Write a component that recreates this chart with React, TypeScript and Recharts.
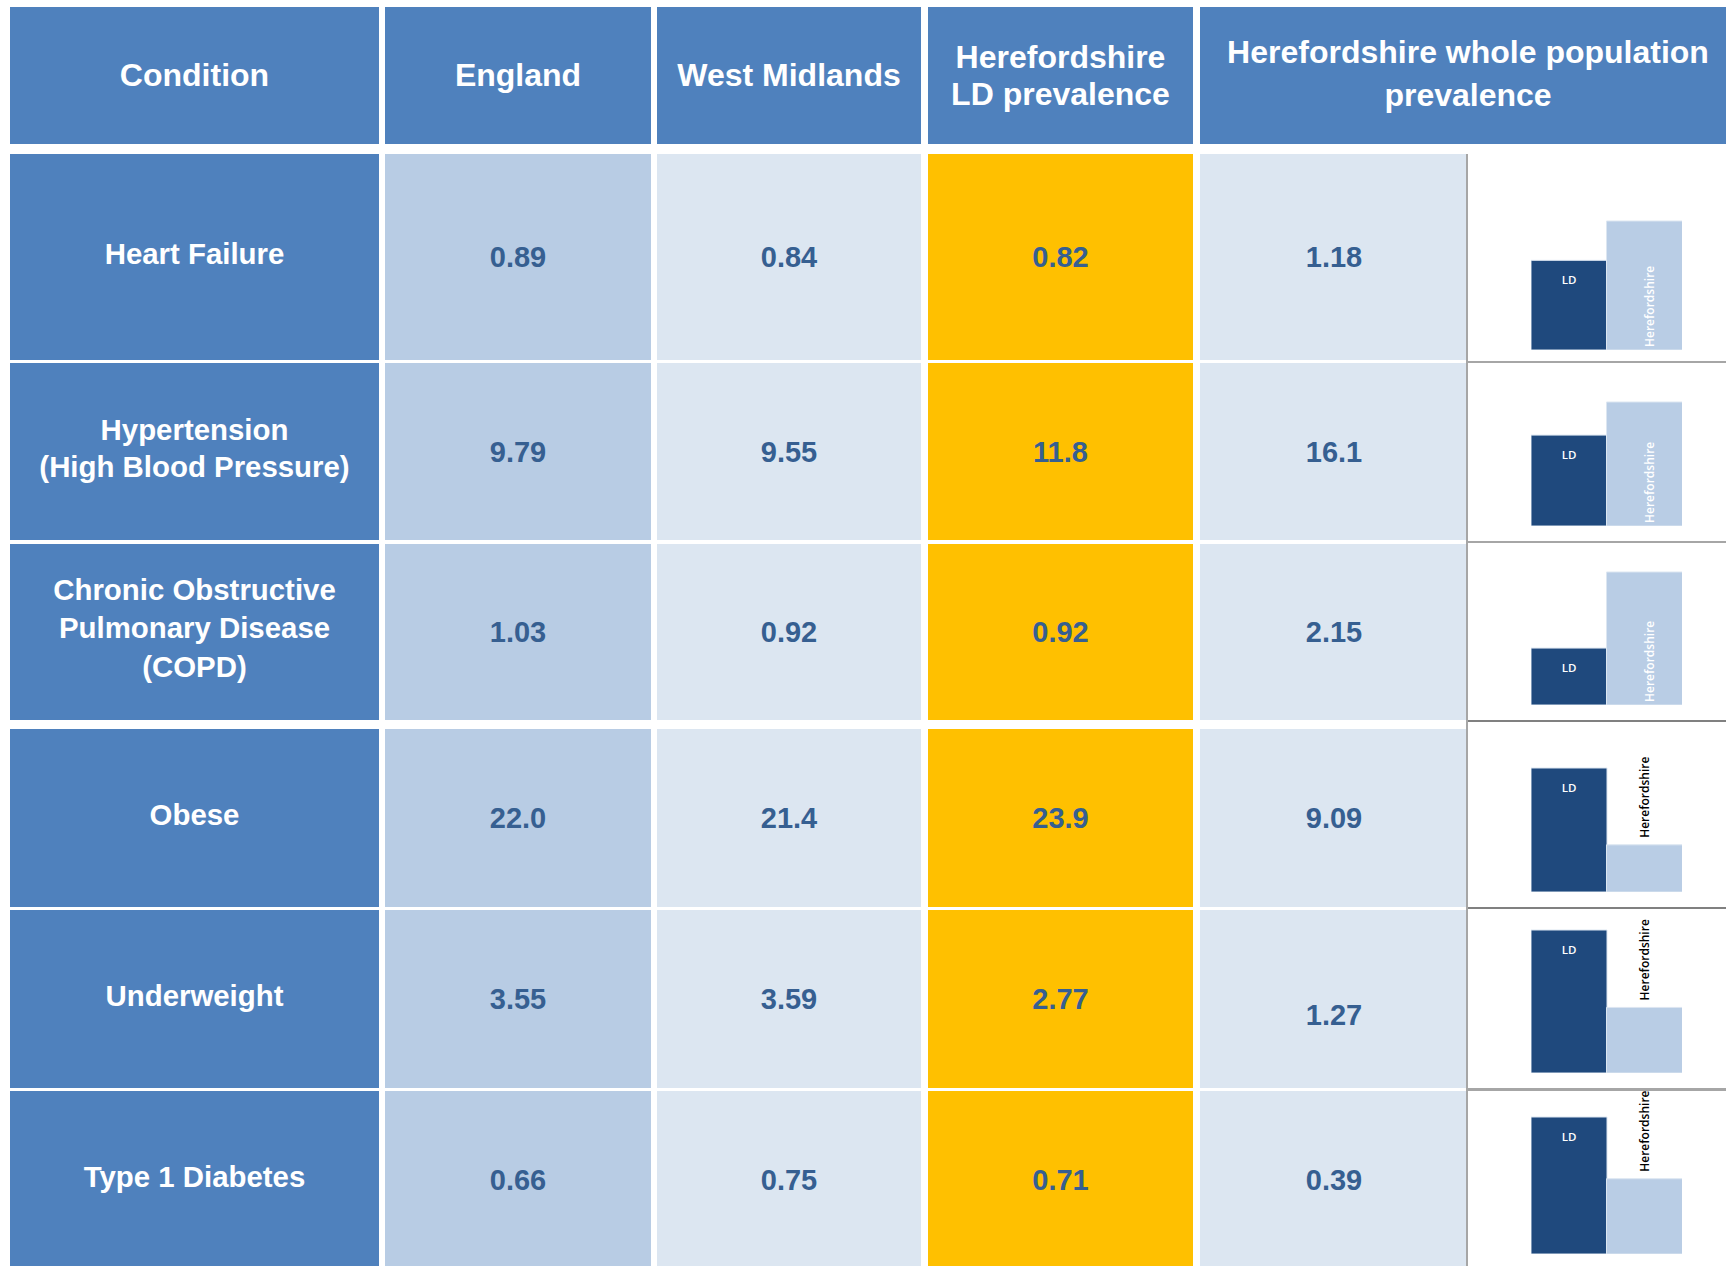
import { BarChart, Bar, XAxis, YAxis, Cell, LabelList } from 'recharts';

const headers = [
  'Condition',
  'England',
  'West Midlands',
  'Herefordshire\nLD prevalence',
  'Herefordshire whole population\nprevalence',
];
const conditions = [
  'Heart Failure',
  'Hypertension\n(High Blood Pressure)',
  'Chronic Obstructive\nPulmonary Disease\n(COPD)',
  'Obese',
  'Underweight',
  'Type 1 Diabetes',
];
const england = [0.89, 9.79, 1.03, 22.0, 3.55, 0.66];
const westMidlands = [0.84, 9.55, 0.92, 21.4, 3.59, 0.75];
const ldPrevalence = [0.82, 11.8, 0.92, 23.9, 2.77, 0.71];
const wholePopulation = [1.18, 16.1, 2.15, 9.09, 1.27, 0.39];
const barNames = ['LD', 'Herefordshire'];

// layout (px on the 1726x1266 page)
const colX = [[10, 379], [385, 651], [657, 921], [928, 1193], [1200, 1468]];
const rowY = [[154, 360], [363, 540], [544, 720], [729, 907], [910, 1088], [1091, 1268]];
const plotY = [[221, 350], [402, 526], [572, 705], [768, 892], [930, 1073], [1117, 1254]];
const CHART_X = 1531;
const CHART_W = 151;
const PAD = 40;

const BLUE = '#4F81BD';
const cellBg = ['#4F81BD', '#B8CCE4', '#DCE6F1', '#FFC000', '#DCE6F1'];
const VALUE = '#365F91';

const fmt = (v: number) => (v >= 10 ? v.toFixed(1) : v.toFixed(2));

function BarLabel(props: any) {
  const { x, y, width, height, value, inside } = props;
  const cx = x + width / 2;
  if (value === 'LD') {
    return (
      <text x={cx} y={y + 19} fill="#fff" fontSize={11.5} fontWeight={600} fontFamily="Open Sans" textAnchor="middle" dominantBaseline="central">
        LD
      </text>
    );
  }
  if (inside) {
    const tx = cx + 5;
    const ty = y + height - 3;
    return (
      <text x={tx} y={ty} fill="#fff" fontSize={12} fontWeight={600} fontFamily="Open Sans" textAnchor="start" dominantBaseline="central" transform={`rotate(-90 ${tx} ${ty})`}>
        {value}
      </text>
    );
  }
  const tx = cx;
  const ty = y - 7;
  return (
    <text x={tx} y={ty} fill="#000" fontSize={12} fontWeight={600} fontFamily="Open Sans" textAnchor="start" dominantBaseline="central" transform={`rotate(-90 ${tx} ${ty})`}>
      {value}
    </text>
  );
}

function MiniChart({ i }: { i: number }) {
  const data = [
    { name: barNames[0], value: ldPrevalence[i] },
    { name: barNames[1], value: wholePopulation[i] },
  ];
  const inside = wholePopulation[i] > ldPrevalence[i];
  const [top, base] = plotY[i];
  return (
    <div style={{ position: 'absolute', left: CHART_X, top: top - PAD }}>
      <BarChart width={CHART_W} height={base - top + PAD} data={data} margin={{ top: PAD, right: 0, left: 0, bottom: 0 }} barCategoryGap={0} barGap={0}>
        <XAxis dataKey="name" hide />
        <YAxis hide domain={[0, 'dataMax']} />
        <Bar dataKey="value" isAnimationActive={false} stroke="#DCE6F1" strokeWidth={1}>
          <Cell fill="#1F497D" />
          <Cell fill="#B9CDE5" />
          <LabelList dataKey="name" content={(p: any) => <BarLabel {...p} inside={inside} />} />
        </Bar>
      </BarChart>
    </div>
  );
}

function Box({ x, y, bg, color, size, text, lh, shift = 0 }: any) {
  return (
    <div
      style={{
        position: 'absolute',
        left: x[0],
        top: y[0],
        width: x[1] - x[0],
        height: y[1] - y[0],
        background: bg,
        color,
        display: 'flex',
        alignItems: 'center',
        justifyContent: 'center',
        textAlign: 'center',
        whiteSpace: 'pre-line',
        fontFamily: '"Liberation Sans", Arial, sans-serif',
        fontWeight: 'bold',
        fontSize: size,
        lineHeight: lh,
        paddingTop: shift > 0 ? shift : 0,
        paddingBottom: shift < 0 ? -shift : 0,
        boxSizing: 'border-box',
      }}
    >
      {text}
    </div>
  );
}

export default function App() {
  const series = [england, westMidlands, ldPrevalence, wholePopulation];
  return (
    <div style={{ position: 'absolute', left: 0, top: 0, width: 1726, height: 1266, overflow: 'hidden', background: '#fff' }}>
      <style>{'html,body{margin:0;overflow:hidden}'}</style>
      {headers.map((h, c) => (
        <Box key={h} x={c === 4 ? [1200, 1736] : colX[c]} y={[7, 144]} bg={BLUE} color="#fff" size={32} text={h} lh={c === 4 ? '43px' : '37px'} shift={c === 4 ? -4 : 0} />
      ))}
      {conditions.map((name, r) => (
        <Box key={name} x={colX[0]} y={rowY[r]} bg={BLUE} color="#fff" size={29.4} text={name} lh={r === 2 ? '38.5px' : '37px'} shift={-7} />
      ))}
      {series.map((s, c) =>
        s.map((v, r) => (
          <Box key={`${c}-${r}`} x={colX[c + 1]} y={rowY[r]} bg={cellBg[c + 1]} color={VALUE} size={29} text={fmt(v)} lh="34px" shift={c === 3 && r === 4 ? 32 : 0} />
        ))
      )}
      {/* chart column frame */}
      <div style={{ position: 'absolute', left: 1466, top: 154, width: 2, height: 1112, background: '#A6A6A6' }} />
      {[361, 541, 720, 907, 1088].map((y, k) => (
        <div key={y} style={{ position: 'absolute', left: 1468, top: y, width: 258, height: k === 4 ? 3 : 2, background: k === 2 || k === 3 ? '#808080' : '#A6A6A6' }} />
      ))}
      {conditions.map((_, i) => (
        <MiniChart key={i} i={i} />
      ))}
    </div>
  );
}
